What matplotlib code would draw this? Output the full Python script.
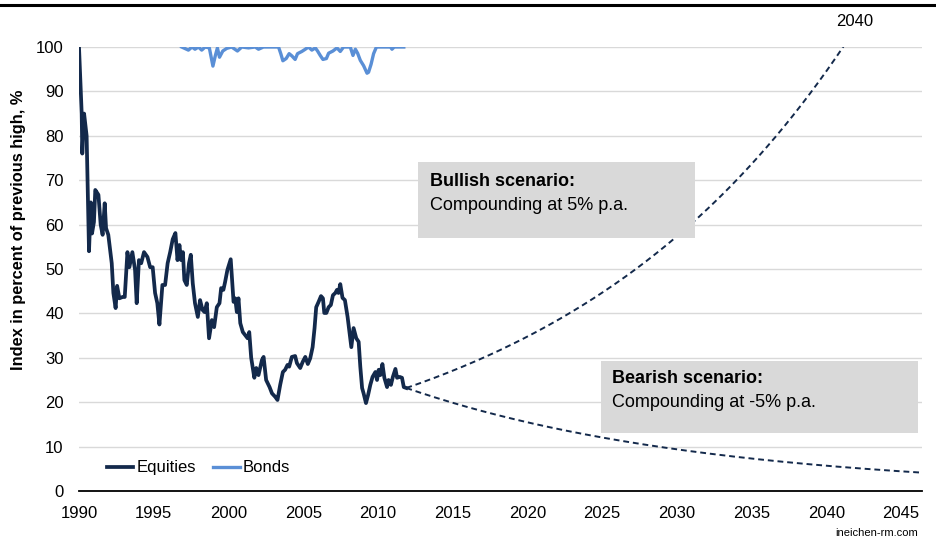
import numpy as np
import matplotlib
matplotlib.use("Agg")
import matplotlib.pyplot as plt
from matplotlib.patches import Rectangle
from matplotlib.lines import Line2D

plt.rcParams['font.family'] = ['Liberation Sans Narrow', 'Liberation Sans', 'DejaVu Sans']

# equities, index in % of previous high
eq_year = [1990.0, 1990.18, 1990.22, 1990.34, 1990.51, 1990.67, 1990.79, 1990.87, 1991.0,
           1991.09, 1991.3, 1991.45, 1991.58, 1991.72, 1991.81, 1991.96, 1992.19, 1992.3,
           1992.45, 1992.55, 1992.7, 1992.92, 1993.06, 1993.24, 1993.37, 1993.57, 1993.75,
           1993.86, 1994.01, 1994.16, 1994.35, 1994.58, 1994.76, 1994.93, 1995.09, 1995.24,
           1995.38, 1995.58, 1995.76, 1995.93, 1996.1, 1996.27, 1996.45, 1996.59, 1996.72,
           1996.83, 1996.95, 1997.05, 1997.21, 1997.36, 1997.48, 1997.61, 1997.76, 1997.95,
           1998.1, 1998.26, 1998.4, 1998.55, 1998.7, 1998.89, 1999.04, 1999.22, 1999.4,
           1999.51, 1999.66, 1999.77, 1999.93, 2000.15, 2000.34, 2000.45, 2000.56, 2000.67,
           2000.79, 2000.96, 2001.12, 2001.28, 2001.39, 2001.52, 2001.73, 2001.86, 2002.01,
           2002.24, 2002.35, 2002.52, 2002.75, 2002.91, 2003.13, 2003.28, 2003.46, 2003.64,
           2003.79, 2003.95, 2004.06, 2004.24, 2004.46, 2004.58, 2004.8, 2004.97, 2005.14,
           2005.31, 2005.47, 2005.63, 2005.76, 2005.87, 2006.03, 2006.19, 2006.32, 2006.41,
           2006.55, 2006.7, 2006.85, 2006.99, 2007.15, 2007.26, 2007.36, 2007.48, 2007.63,
           2007.79, 2007.97, 2008.1, 2008.22, 2008.37, 2008.55, 2008.71, 2008.82, 2008.94,
           2009.04, 2009.2, 2009.34, 2009.49, 2009.64, 2009.83, 2009.94, 2010.05, 2010.16,
           2010.3, 2010.43, 2010.61, 2010.71, 2010.87, 2011.0, 2011.17, 2011.28, 2011.45,
           2011.61, 2011.73, 2011.9]
eq_val = [100, 85, 76, 85, 80, 54, 65, 58, 60.6,
          67.8, 66.7, 60, 57.7, 64.8, 59.2, 57.7, 51.3, 44.6,
          41.2, 46.2, 43.4, 43.7, 43.7, 53.8, 50.4, 53.8, 49.8,
          42.3, 52, 51.3, 53.8, 52.7, 50.4, 50.4, 44.6, 42.3,
          37.5, 46.4, 46.4, 51.3, 53.8, 56.7, 58.1, 52, 55.4,
          52, 53.8, 47.5, 46.4, 51.3, 53.2, 46.8, 42.3, 39.2,
          43, 40.8, 40.3, 42.3, 34.4, 38.5, 36.9, 41.4, 42.3,
          45.7, 45.3, 47, 49.8, 52.2, 42.6, 43.4, 40.3, 43.4,
          37.8, 35.8, 35.1, 34.4, 35.8, 30, 25.5, 27.7, 26.1,
          29.5, 30.2, 25, 23.4, 22, 21.2, 20.5, 23.9, 26.8,
          27.3, 28.4, 28, 30.2, 30.4, 28.8, 27.7, 29.1, 30.2,
          28.6, 29.9, 32.4, 36.7, 41.4, 42.6, 43.9, 43.4, 40.1,
          40.1, 41.4, 41.9, 44.1, 44.6, 45.3, 44.6, 46.6, 43.5,
          43, 39.2, 35.6, 32.4, 36.7, 34.4, 33.6, 28, 23.2,
          22, 19.8, 21.6, 23.9, 25.7, 26.8, 25, 27.3, 26.1,
          28.6, 25.5, 23.4, 25, 23.9, 25.7, 27.5, 25.5, 25.7,
          25.5, 23.4, 23.2]

# bonds, index in % of previous high
bd_year = [1996.87, 1997.32, 1997.56, 1997.76, 1997.99, 1998.21, 1998.44, 1998.72, 1998.96,
           1999.11, 1999.26, 1999.4, 1999.62, 1999.89, 2000.21, 2000.6, 2000.89, 2001.34,
           2001.79, 2002.01, 2002.34, 2003.35, 2003.5, 2003.64, 2003.86, 2004.06, 2004.24,
           2004.46, 2004.62, 2004.91, 2005.14, 2005.35, 2005.58, 2005.81, 2005.96, 2006.14,
           2006.32, 2006.55, 2006.7, 2006.99, 2007.26, 2007.48, 2007.7, 2008.15, 2008.33,
           2008.49, 2008.64, 2008.82, 2009.04, 2009.27, 2009.37, 2009.54, 2009.71, 2009.9,
           2010.84, 2010.94, 2011.09, 2011.73]
bd_val = [100, 99.3, 100, 99.5, 100, 99.3, 100, 99.8, 95.7,
          97.9, 99.8, 97.7, 99.1, 99.7, 100, 99.1, 100, 99.8,
          100, 99.5, 100, 100, 98.5, 96.9, 97.4, 98.5, 98,
          97.2, 98.5, 99, 99.5, 100, 99.3, 99.8, 99.1, 98.1,
          97.2, 97.4, 98.6, 99.1, 99.8, 99, 100, 100, 98.1,
          99.5, 98.6, 97, 95.8, 94.1, 94.3, 96.1, 98.5, 100,
          100, 99.5, 100, 100]

# scenarios
start_year = 2011.9
start_val = 23.2
end_year = 2046.4
bull_rate = 0.05
bear_rate = -0.05

navy = '#13294B'
blue = '#5A8FD6'

fig = plt.figure(figsize=(9.36, 5.47), dpi=100)
ax = fig.add_axes([79 / 936, 1 - 491 / 547, (922 - 79) / 936, (491 - 47) / 547])

t = np.linspace(start_year, end_year, 300)
ax.plot(t, start_val * np.exp(bull_rate * (t - start_year)), color=navy, lw=1.4,
        ls=(0, (3, 2)), zorder=3)
ax.plot(t, start_val * np.exp(bear_rate * (t - start_year)), color=navy, lw=1.4,
        ls=(0, (3, 2)), zorder=3)

ax.plot(eq_year, eq_val, color=navy, lw=2.7, label='Equities', zorder=4, solid_joinstyle='round')
ax.plot(bd_year, bd_val, color=blue, lw=2.4, label='Bonds', zorder=4, solid_joinstyle='round')

ax.add_patch(Rectangle((2012.7, 57.0), 18.5, 17.1, facecolor='#D9D9D9', edgecolor='none', zorder=5))
ax.text(2013.45, 71.6, 'Bullish scenario:', fontsize=13, fontweight='bold', va='top', zorder=6)
ax.text(2013.45, 66.3, 'Compounding at 5% p.a.', fontsize=13, va='top', zorder=6)

ax.add_patch(Rectangle((2024.9, 13.1), 21.2, 16.2, facecolor='#D9D9D9', edgecolor='none', zorder=5))
ax.text(2025.65, 27.2, 'Bearish scenario:', fontsize=13, fontweight='bold', va='top', zorder=6)
ax.text(2025.65, 21.9, 'Compounding at -5% p.a.', fontsize=13, va='top', zorder=6)

ax.set_xlim(1990, end_year)
ax.set_ylim(0, 100)
ax.set_xticks(np.arange(1990, 2046, 5))
ax.set_yticks(np.arange(0, 101, 10))
ax.tick_params(axis='x', length=0, labelsize=12, pad=11)
ax.tick_params(axis='y', length=0, labelsize=12, pad=11)
ax.grid(axis='y', color='#D9D9D9', lw=1)
ax.set_axisbelow(True)
for s in ['left', 'right', 'top']:
    ax.spines[s].set_visible(False)
ax.spines['bottom'].set_color('black')
ax.spines['bottom'].set_linewidth(1.3)
ax.spines['bottom'].set_zorder(6)

fig.text(19 / 936, 1 - 230 / 547, 'Index in percent of previous high, %', fontsize=11.8,
         fontweight='bold', rotation=90, ha='center', va='center')

ax.legend(loc='center left', bbox_to_anchor=(0.025, 0.052), frameon=False, fontsize=12,
          handlelength=1.6, handletextpad=0.2, columnspacing=1.0, ncol=2,
          borderaxespad=0)

fig.add_artist(Line2D([0, 1], [1 - 5 / 547, 1 - 5 / 547], color='black', lw=2.2))
fig.text(855 / 936, 1 - 22 / 547, '2040', fontsize=12, ha='center', va='center')
fig.text(918 / 936, 1 - 533 / 547, 'ineichen-rm.com', fontsize=8, ha='right', va='center')

fig.savefig('out.png', dpi=100)
